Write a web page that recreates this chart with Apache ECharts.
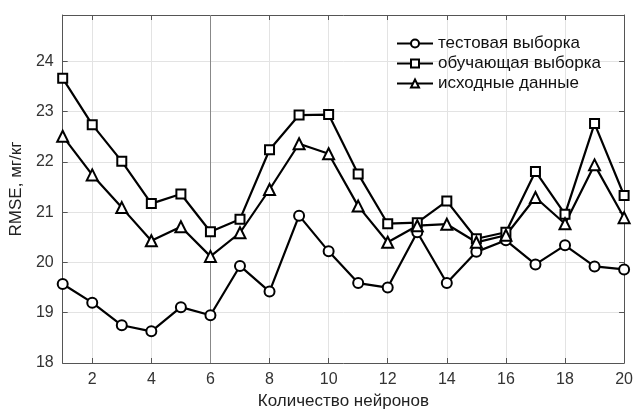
<!DOCTYPE html>
<html>
<head>
<meta charset="utf-8">
<script src="https://cdn.jsdelivr.net/npm/echarts@6/dist/echarts.min.js"></script>
<style>html,body{margin:0;padding:0;background:#fff}#c{width:636px;height:415px}</style>
</head>
<body>
<div id="c"></div>
<script>
const categories = ['1','2','3','4','5','6','7','8','9','10','11','12','13','14','15','16','17','18','19','20'];
const testSeries  = [19.57,19.20,18.75,18.63,19.11,18.95,19.93,19.42,20.93,20.22,19.59,19.50,20.60,19.59,20.21,20.44,19.96,20.34,19.92,19.86];
const trainSeries = [23.66,22.74,22.01,21.17,21.36,20.61,20.86,22.24,22.93,22.94,21.76,20.77,20.79,21.22,20.47,20.60,21.81,20.96,22.76,21.33];
const sourceSeries= [22.51,21.74,21.09,20.43,20.71,20.12,20.59,21.45,22.36,22.16,21.12,20.40,20.73,20.76,20.40,20.54,21.29,20.77,21.94,20.89];
const seriesNames = ['тестовая выборка','обучающая выборка','исходные данные'];
const yTicks = [18,19,20,21,22,23,24];

const chart = echarts.init(document.getElementById('c'), null, {renderer:'canvas'});
const font = 'Liberation Sans, Arial, sans-serif';
const evenIdx = (i, v) => (Number(v) % 2 === 0);
function mk(name, data, symbol, size, extra) {
  return Object.assign({
    name: name, type: 'line', data: data,
    symbol: symbol, symbolSize: size,
    lineStyle: {color: '#000', width: 2.2},
    itemStyle: {color: '#fff', borderColor: '#000', borderWidth: 2},
    color: '#000',
    emphasis: {disabled: true},
    animation: false, z: 3
  }, extra || {});
}
chart.setOption({
  animation: false,
  backgroundColor: '#fff',
  grid: {left: 62, right: 10, top: 15, bottom: 48, containLabel: false},
  legend: {
    orient: 'vertical', left: 396, top: 35, padding: 0,
    itemWidth: 36, itemHeight: 10, itemGap: 3,
    textStyle: {fontFamily: font, fontSize: 17, color: '#111'},
    data: seriesNames
  },
  xAxis: [{
    type: 'category', data: categories, boundaryGap: false,
    name: 'Количество нейронов', nameLocation: 'middle', nameGap: 30,
    nameTextStyle: {fontFamily: font, fontSize: 17, color: '#222'},
    axisLine: {lineStyle: {color: '#555', width: 1}},
    axisTick: {inside: true, length: 5, interval: evenIdx, lineStyle: {color: '#555'}},
    axisLabel: {interval: evenIdx, fontFamily: font, fontSize: 16, color: '#333', margin: 9},
    splitLine: {show: true, interval: evenIdx, lineStyle: {color: '#e3e3e3', width: 1}}
  }, {
    type: 'category', data: categories, boundaryGap: false, position: 'top',
    axisLine: {lineStyle: {color: '#555', width: 1}},
    axisTick: {inside: true, length: 5, interval: evenIdx, lineStyle: {color: '#555'}},
    axisLabel: {show: false}, splitLine: {show: false}
  }],
  yAxis: [{
    type: 'value', min: 18, max: 24.92, interval: 1,
    name: 'RMSE, мг/кг', nameLocation: 'middle', nameGap: 36, nameRotate: 90,
    nameTextStyle: {fontFamily: font, fontSize: 17, color: '#222'},
    axisLine: {show: true, lineStyle: {color: '#555', width: 1}},
    axisTick: {show: true, inside: true, length: 5, lineStyle: {color: '#555'}},
    axisLabel: {fontFamily: font, fontSize: 16, color: '#333', margin: 9,
      formatter: v => (yTicks.indexOf(Math.round(v*100)/100) >= 0 ? String(v) : '')},
    splitLine: {show: true, lineStyle: {color: '#e3e3e3', width: 1}}
  }, {
    type: 'value', min: 18, max: 24.92, interval: 1, position: 'right',
    axisLine: {show: true, lineStyle: {color: '#555', width: 1}},
    axisTick: {show: true, inside: true, length: 5, lineStyle: {color: '#555'}},
    axisLabel: {show: false}, splitLine: {show: false}
  }],
  series: [
    mk(seriesNames[0], testSeries, 'circle', 10, {
      markLine: {silent: true, symbol: ['none','none'], label: {show: false},
        lineStyle: {color: '#888', width: 1, type: 'solid'}, data: [{xAxis: '6'}], z: 1}
    }),
    mk(seriesNames[1], trainSeries, 'rect', 9),
    mk(seriesNames[2], sourceSeries, 'triangle', 11)
  ]
});
</script>
</body>
</html>
